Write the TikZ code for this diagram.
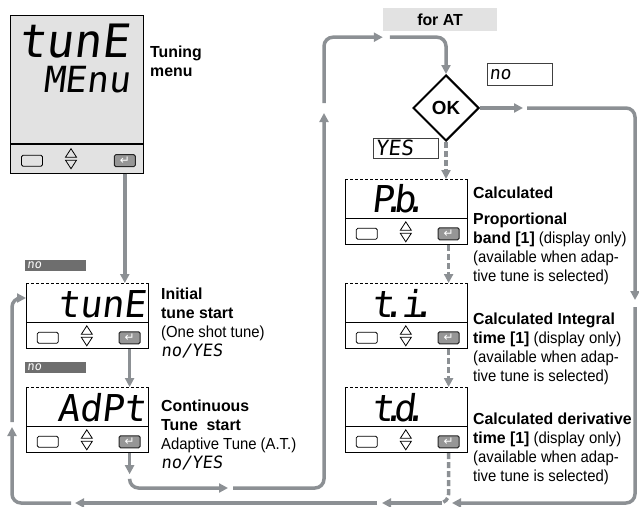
\documentclass[tikz,border=0pt]{standalone}
\usepackage{fontspec}
\setmainfont[FakeStretch=0.93, BoldFeatures={FakeStretch=0.99}]{Liberation Sans}
\newfontfamily\lcd[FakeSlant=0.12]{DejaVu Sans Mono}
\newfontfamily\simb{DejaVu Sans}
\usepackage{tikz}
\usetikzlibrary{shapes.geometric,arrows.meta,positioning,calc}
\definecolor{cinzaSeta}{RGB}{140,144,148}
\definecolor{cinzaAba}{RGB}{110,110,110}
\definecolor{cinzaVisor}{RGB}{226,226,226}
\definecolor{cinzaTecla}{RGB}{150,150,150}
\newcommand{\pto}{\kern-.3em.\kern-.3em}
\newcommand{\lcdpeq}{\lcd\fontsize{17}{19}\selectfont}
\tikzset{
  visor/.style={rectangle, fill=white, minimum width=122, minimum height=39,
                inner sep=0pt, anchor=north west},
  teclado/.style={rectangle, draw, line width=0.8pt, fill=white,
                  minimum width=122, minimum height=26, inner sep=0pt},
  borda/.style={line width=0.8pt, black},
  botao/.style={rectangle, draw, line width=0.8pt, rounded corners=1.5pt,
                minimum width=21, minimum height=11, inner sep=0pt},
  tecla/.style={rectangle, draw=black!85, line width=1pt, fill=cinzaTecla,
                rounded corners=1.5pt, minimum width=21, minimum height=12,
                inner sep=0pt, text=white, font=\simb\fontsize{12}{12}\selectfont},
  lcdgr/.style={inner sep=0pt, font=\lcd\fontsize{37}{37}\selectfont},
  aba/.style={fill=cinzaAba, text=white, font=\lcd\fontsize{12}{12}\selectfont,
              text width=57, align=left, minimum height=11, inner xsep=2, inner ysep=0},
  caixa/.style={draw=black!75, line width=0.7pt, fill=white, text width=61,
                align=left, minimum height=22, inner xsep=2, inner ysep=0,
                font=\lcd\fontsize{18}{18}\selectfont},
  losango/.style={diamond, draw, line width=2pt, fill=white, minimum size=66,
                  inner sep=0pt, font=\bfseries\fontsize{19}{19}\selectfont},
  faixa/.style={fill=cinzaVisor, minimum width=114, minimum height=23, inner sep=0pt,
                font=\bfseries\fontsize{16}{16}\selectfont},
  rotulo/.style={inner sep=0pt, align=left, anchor=north west,
                 font=\fontsize{16}{19}\selectfont},
  seta/.style={-{Triangle[length=9pt,width=9pt]}, line width=3.5pt, cinzaSeta,
               rounded corners=9},
  setatrac/.style={seta, dash pattern=on 6pt off 3pt},
  linhatrac/.style={line width=3.5pt, cinzaSeta, dash pattern=on 6pt off 3pt,
                    rounded corners=9},
}
% teclas de um visor: #1-t e o teclado
\newcommand{\botoes}[1]{%
  \node[botao] (#1-b) at ($(#1-t.west)+(22,2)$) {};
  \node[tecla] (#1-e) at ($(#1-t.east)+(-19,2)$) {↵};
  \draw[borda] ($(#1-t.west)+(55.5,-1.5)$) -- ($(#1-t.west)+(61,-10)$) -- ($(#1-t.west)+(66.5,-1.5)$) -- cycle
               ($(#1-t.west)+(55.5,1.5)$) -- ($(#1-t.west)+(61,10)$) -- ($(#1-t.west)+(66.5,1.5)$) -- cycle;
}
% visor com topo tracejado, canto superior esquerdo em #2
\newcommand{\visor}[2]{%
  \node[visor] (#1) at (#2) {};
  \node[teclado, below=0pt of #1] (#1-t) {};
  \draw[borda] (#1.north west) -- (#1.south west) (#1.north east) -- (#1.south east);
  \draw[borda, densely dashed] (#1.north west) -- (#1.north east);
  \botoes{#1}
}

\begin{document}
\begin{tikzpicture}[x=1pt, y=-1pt]
  \useasboundingbox (0,0) rectangle (639,506);

  % menu
  \node[visor, draw, line width=0.8pt, fill=cinzaVisor, minimum width=133,
        minimum height=128] (menu) at (10,15) {};
  \node[teclado, fill=cinzaVisor, minimum width=133, minimum height=29,
        below=0pt of menu] (menu-t) {};
  \botoes{menu}
  \node[inner sep=0pt, anchor=base west, font=\lcd\fontsize{46}{46}\selectfont]
    (menu-l1) at (18,57) {tunE};
  \node[inner sep=0pt, anchor=base east, font=\lcd\fontsize{36}{36}\selectfont]
    (menu-l2) at (130,92) {MEnu};
  \node[rotulo] (lbmenu) at (150,46) {\textbf{Tuning}\\\textbf{menu}};

  % coluna da esquerda
  \visor{tune}{26,283}
  \visor{adpt}{26,387}
  \node[lcdgr, anchor=base east] (tune-l) at ($(tune.south east)+(-2,-5)$) {tunE};
  \node[lcdgr, anchor=base east] (adpt-l) at ($(adpt.south east)+(-2,-5)$) {AdPt};
  \node[aba, anchor=south west] (aba1) at ($(tune.north west)+(-1,-12)$) {no};
  \node[aba, anchor=south west] (aba2) at ($(adpt.north west)+(-1,-14)$) {no};
  \node[rotulo] (lbtune) at (161,288)
    {\textbf{Initial}\\\textbf{tune start}\\(One shot tune)\\{\lcdpeq no/YES}};
  \node[rotulo] (lbadpt) at (161,400)
    {\textbf{Continuous}\\\textbf{Tune\ \ start}\\Adaptive Tune (A.T.)\\{\lcdpeq no/YES}};

  % coluna da direita
  \node[faixa] (forat) at (440,19.5) {for AT};
  \node[losango] (ok) at (446,108) {OK};
  \node[caixa, anchor=north west] (nao) at (487,63) {no};
  \node[caixa, anchor=north west, minimum height=20,
        font=\lcd\fontsize{21}{21}\selectfont] (sim) at (373,138) {YES};
  \visor{pb}{345,179}
  \visor{ti}{345,283}
  \visor{td}{345,387}
  \node[lcdgr, anchor=base west] (pb-l) at ($(pb.south west)+(26,-6)$) {P\pto b\pto};
  \node[lcdgr, anchor=base west] (ti-l) at ($(ti.south west)+(26,-5)$) {t\pto\ \kern-.4em i\pto};
  \node[lcdgr, anchor=base west] (td-l) at ($(td.south west)+(26,-5)$) {t\pto d\pto};
  \node[rotulo] (lbpb) at (473,187)
    {\textbf{Calculated}\\[7pt]\textbf{Proportional}\\\textbf{band [1]} (display only)\\(available when adap-\\tive tune is selected)};
  \node[rotulo] (lbti) at (473,313)
    {\textbf{Calculated Integral}\\\textbf{time [1]} (display only)\\(available when adap-\\tive tune is selected)};
  \node[rotulo] (lbtd) at (473,413)
    {\textbf{Calculated derivative}\\\textbf{time [1]} (display only)\\(available when adap-\\tive tune is selected)};

  % setas
  \draw[seta] (menu-e |- menu-t.south) -- (menu-e |- tune.north);
  \draw[seta] (tune-e |- tune-t.south) -- (tune-e |- adpt.north);
  \draw[seta] (adpt-e |- adpt-t.south) -- ++(0,21) coordinate (b0);
  \draw[seta] ($(b0)+(0,5)$) |- (228,488) coordinate (b1);
  \draw[seta] ($(b1)+(5,0)$) -| (324,113) coordinate (b2);
  \draw[seta] ($(b2)+(0,-10)$) |- ($(forat.south west)+(0,6)$) coordinate (b3);
  \draw[seta] ($(b3)+(7,0)$) -| (ok.north);

  \draw[seta] (ok.east) -- ++(43,0) coordinate (a0);
  \draw[seta] ($(a0)+(4,0)$) -| (635,300) coordinate (a1);
  \draw[seta] ($(a1)+(0,7)$) |- (452,503) coordinate (a2);
  \draw[seta] ($(a2)+(-10,0)$) -- (382,503) coordinate (a3);
  \draw[seta] ($(a3)+(-5,0)$) -- (75,503) coordinate (a4);
  \draw[seta] ($(a4)+(-4,0)$) -| (12,427) coordinate (a5);
  \draw[seta] ($(a5)+(0,-5)$) |- ($(tune.north west)+(0,15)$);

  \draw[setatrac] (ok.south) -- (ok.south |- pb.north);
  \draw[setatrac] (pb-e |- pb-t.south) -- (pb-e |- ti.north);
  \draw[setatrac] (ti-e |- ti-t.south) -- (ti-e |- td.north);
  \coordinate (junta) at (433,503);
  \draw[linhatrac] (td-e |- td-t.south) |- (junta);
\end{tikzpicture}
\end{document}
